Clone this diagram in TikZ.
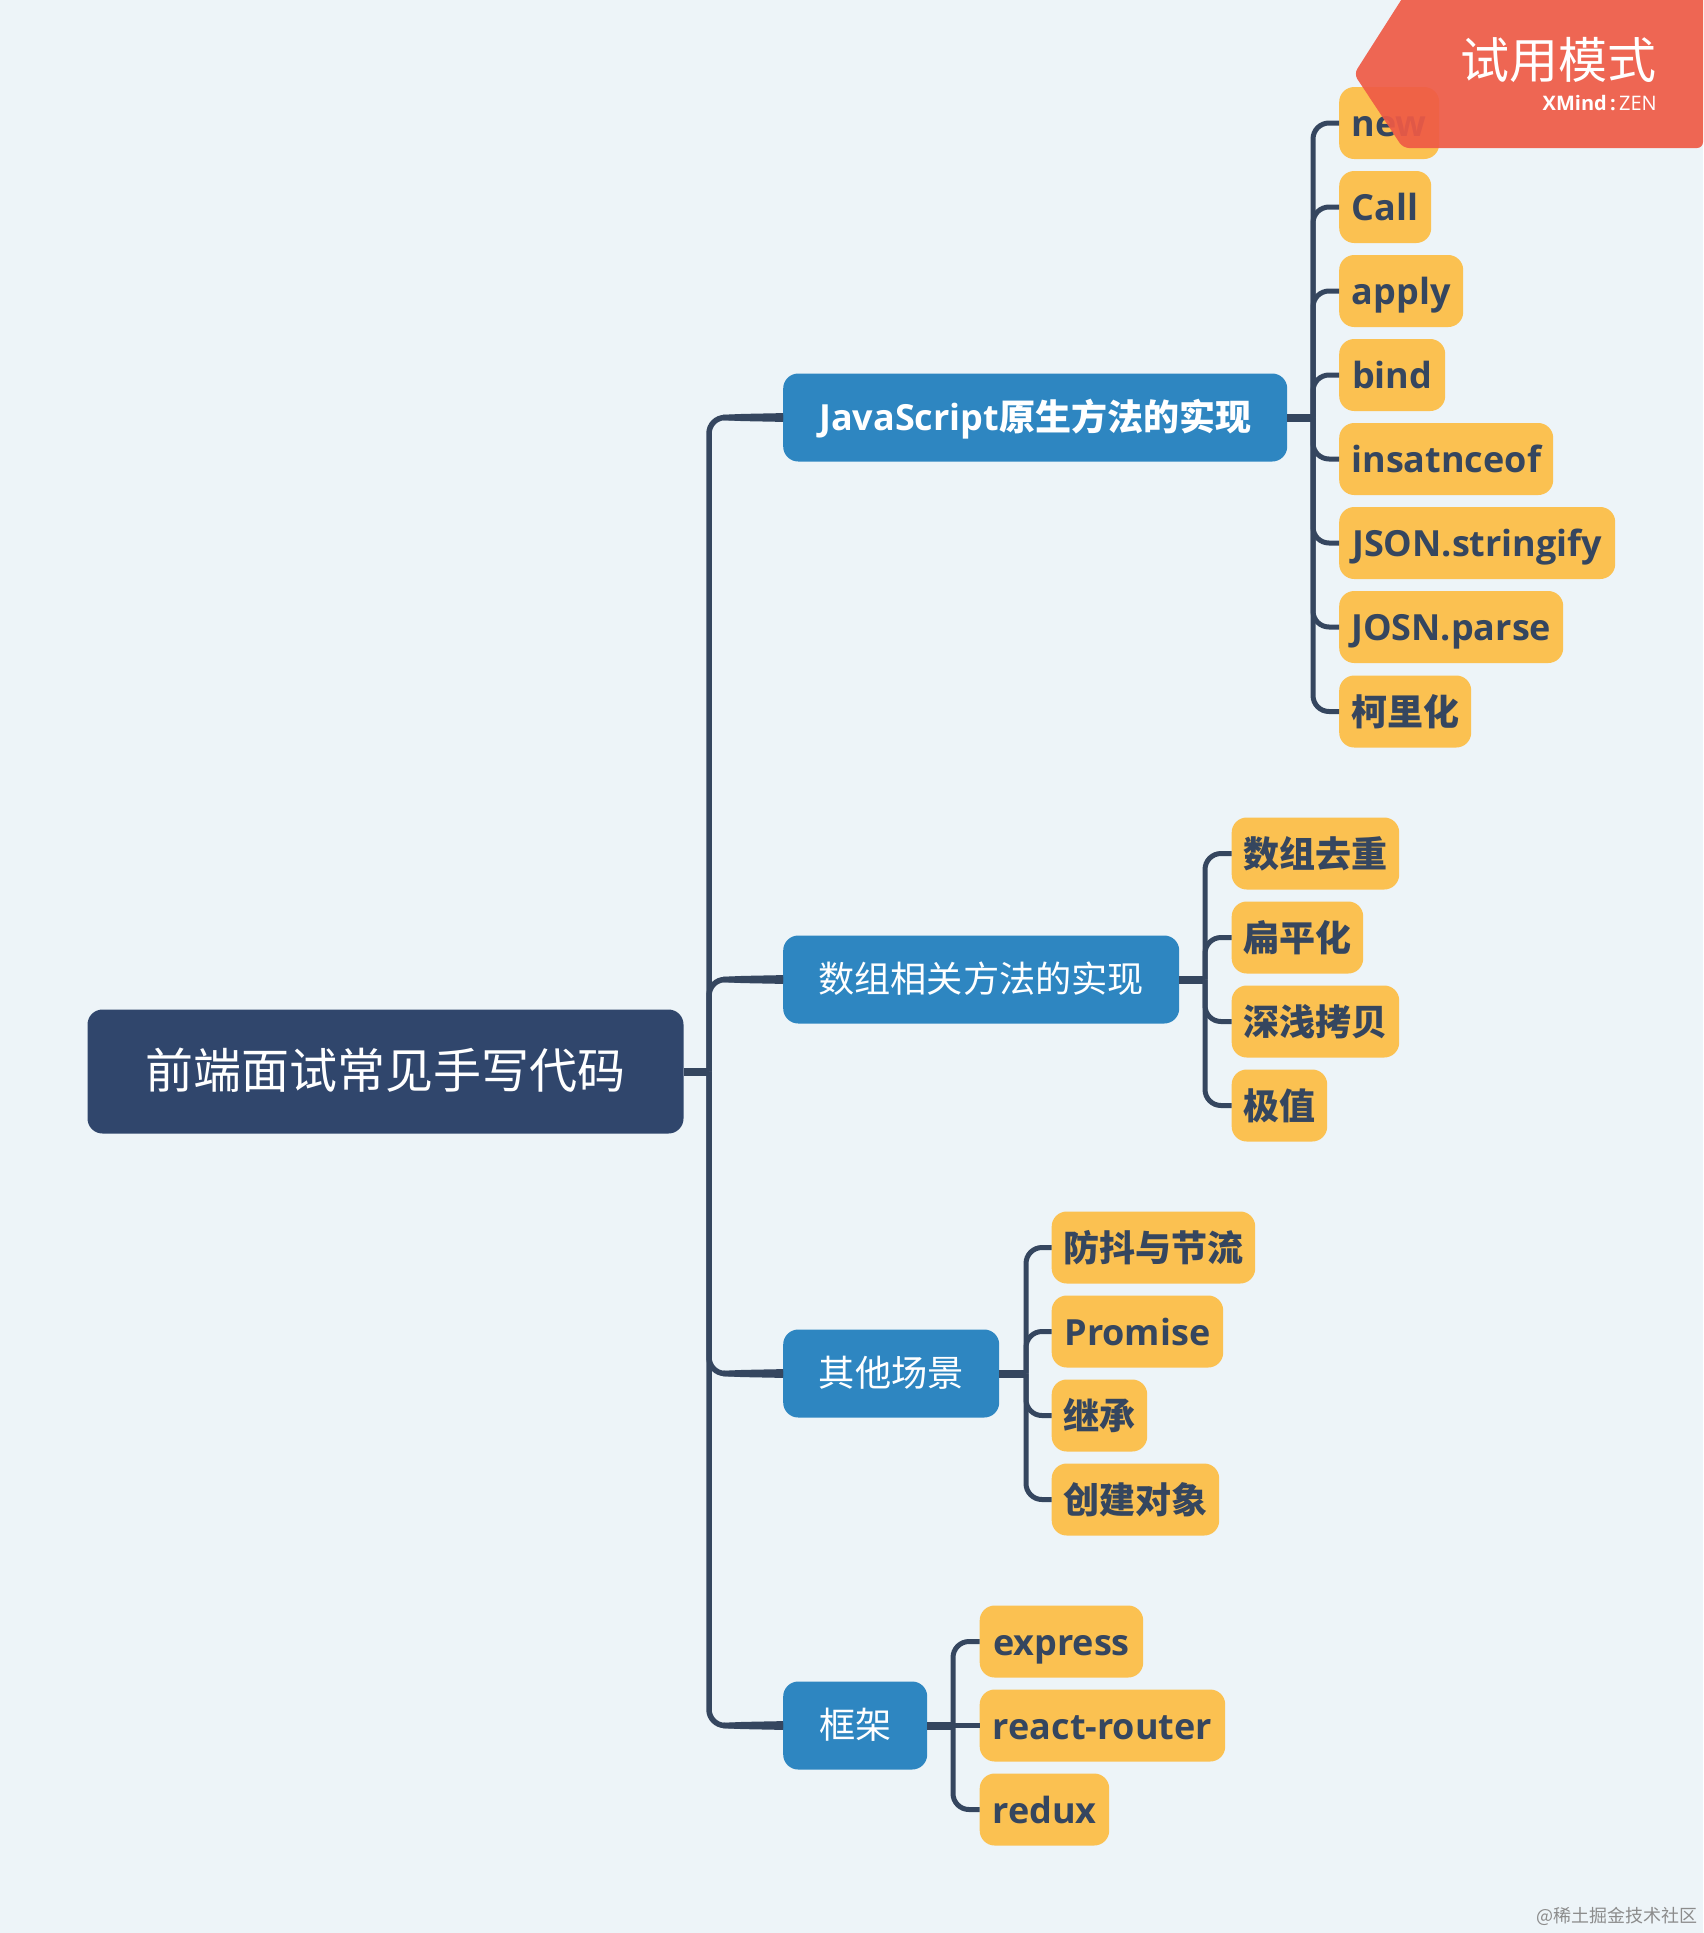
\documentclass[tikz,border=0pt]{standalone}
\usepackage{fontspec}
\setmainfont{Open Sans}
\newfontfamily\cjk{Noto Sans CJK SC}
\newcommand{\fsz}[1]{\fontsize{#1}{#1}\selectfont}
\definecolor{bgc}{HTML}{EDF4F8}
\definecolor{leafc}{HTML}{FBC151}
\definecolor{subc}{HTML}{2E86C1}
\definecolor{rootc}{HTML}{30466C}
\definecolor{linec}{HTML}{35465F}
\definecolor{bannerc}{HTML}{EF5A46}
\tikzset{
  rootbox/.style={fill=rootc,rounded corners=15,text=white,inner sep=0,minimum height=124,font=\cjk\fsz{48},text height=40,text depth=7},
  subbox/.style={fill=subc,rounded corners=15,text=white,inner sep=0,minimum height=88,anchor=west,font=\fsz{36},text height=30,text depth=5},
  leafbox/.style={fill=leafc,rounded corners=15,text=linec,inner sep=0,minimum height=72,anchor=west,font=\bfseries\fsz{36},text height=34,text depth=7},
  trunk/.style={draw=linec,line width=5.5,rounded corners=16},
  stub/.style={draw=linec,line width=8},
  branch/.style={draw=linec,line width=5,rounded corners=16},
}
\newcommand{\taper}[1]{\fill[linec] ([shift={(-60,-2.75)}]#1.west) -- ([shift={(-40,-3.6)}]#1.west) -- ([shift={(0,-4.4)}]#1.west) -- ([shift={(0,4.4)}]#1.west) -- ([shift={(-40,3.6)}]#1.west) -- ([shift={(-60,2.75)}]#1.west) -- cycle;}
\begin{document}
\begin{tikzpicture}[x=1pt,y=-1pt]
\useasboundingbox (0,0) rectangle (1703,1933);
\fill[bgc] (0,0) rectangle (1703,1933);
% nodes
\node[rootbox,minimum width=596] (root) at (385.5,1071.5) {前端面试常见手写代码};
\node[subbox,minimum width=504] (js) at (783,417.5) {\bfseries JavaScript{\cjk 原生方法的实现}};
\node[subbox,minimum width=396,font=\cjk\fsz{36.2}] (arr) at (783,979.5) {数组相关方法的实现};
\node[subbox,minimum width=216,font=\cjk\fsz{36.2}] (oth) at (783,1373.5) {其他场景};
\node[subbox,minimum width=144,font=\cjk\fsz{36.2}] (frm) at (783,1725.5) {框架};
\coordinate (t) at (709,1071.5);
\coordinate (tj) at (1313,417.5);
\coordinate (ta) at (1205,979.5);
\coordinate (to) at (1026,1373.5);
\coordinate (tf) at (953,1725.5);
% JS leaves
\node[leafbox,minimum width=100] (a1) at (1339,123) {new};
\node[leafbox,minimum width=92] (a2) at (1339,207) {Call};
\node[leafbox,minimum width=124] (a3) at (1339,291) {apply};
\node[leafbox,minimum width=106] (a4) at (1339,375) {bind};
\node[leafbox,minimum width=214] (a5) at (1339,459) {insatnceof};
\node[leafbox,minimum width=276] (a6) at (1339,543) {JSON.stringify};
\node[leafbox,minimum width=224] (a7) at (1339,627) {JOSN.parse};
\node[leafbox,minimum width=132] (a8) at (1339,711.5) {\cjk\bfseries 柯里化};
% array leaves
\node[leafbox,minimum width=167.5] (b1) at (1231.5,853.5) {\cjk\bfseries 数组去重};
\node[leafbox,minimum width=131.5] (b2) at (1231.5,937.5) {\cjk\bfseries 扁平化};
\node[leafbox,minimum width=167.5] (b3) at (1231.5,1021.5) {\cjk\bfseries 深浅拷贝};
\node[leafbox,minimum width=95.5] (b4) at (1231.5,1105.5) {\cjk\bfseries 极值};
% other leaves
\node[leafbox,minimum width=203.5] (c1) at (1051.5,1247.5) {\cjk\bfseries 防抖与节流};
\node[leafbox,minimum width=171.5] (c2) at (1051.5,1331.5) {Promise};
\node[leafbox,minimum width=95.5] (c3) at (1051.5,1415.5) {\cjk\bfseries 继承};
\node[leafbox,minimum width=167.5] (c4) at (1051.5,1499.5) {\cjk\bfseries 创建对象};
% frame leaves
\node[leafbox,minimum width=163.5] (d1) at (979.5,1641.5) {express};
\node[leafbox,minimum width=245.5] (d2) at (979.5,1725.5) {react-router};
\node[leafbox,minimum width=129.5] (d3) at (979.5,1809.5) {redux};
% connectors: root to subs
\draw[stub] (root.east) -- (t);
\foreach \n in {js,arr,oth,frm} {
  \draw[trunk] (t) |- (\n.west);
  \taper{\n}
}
% connectors: subs to leaves
\draw[stub] (js.east) -- (tj);
\foreach \n in {a1,a2,a3,a4,a5,a6,a7,a8} { \draw[branch] (tj) |- (\n.west); }
\draw[stub] (arr.east) -- (ta);
\foreach \n in {b1,b2,b3,b4} { \draw[branch] (ta) |- (\n.west); }
\draw[stub] (oth.east) -- (to);
\foreach \n in {c1,c2,c3,c4} { \draw[branch] (to) |- (\n.west); }
\draw[stub] (frm.east) -- (tf);
\foreach \n in {d1,d3} { \draw[branch] (tf) |- (\n.west); }
\draw[branch] (tf) -- (d2.west);
% banner
\fill[bannerc,fill opacity=.92,rounded corners=6] (1405,-6) -- (1703,-6) -- (1703,148) -- (1403,148) -- (1354,74) -- cycle;
\node[anchor=east,text=white,inner sep=0,font=\cjk\fsz{49}] (bt) at (1657,60) {试用模式};
\node[anchor=east,text=white,inner sep=0,font=\fsz{20}] (bx) at (1657,103) {\textbf{XMind}\,\textbf{:}\,ZEN};
\node[anchor=east,text=black!45,inner sep=0,font=\cjk\fsz{18}] (wm) at (1698,1916) {@稀土掘金技术社区};
\end{tikzpicture}
\end{document}
